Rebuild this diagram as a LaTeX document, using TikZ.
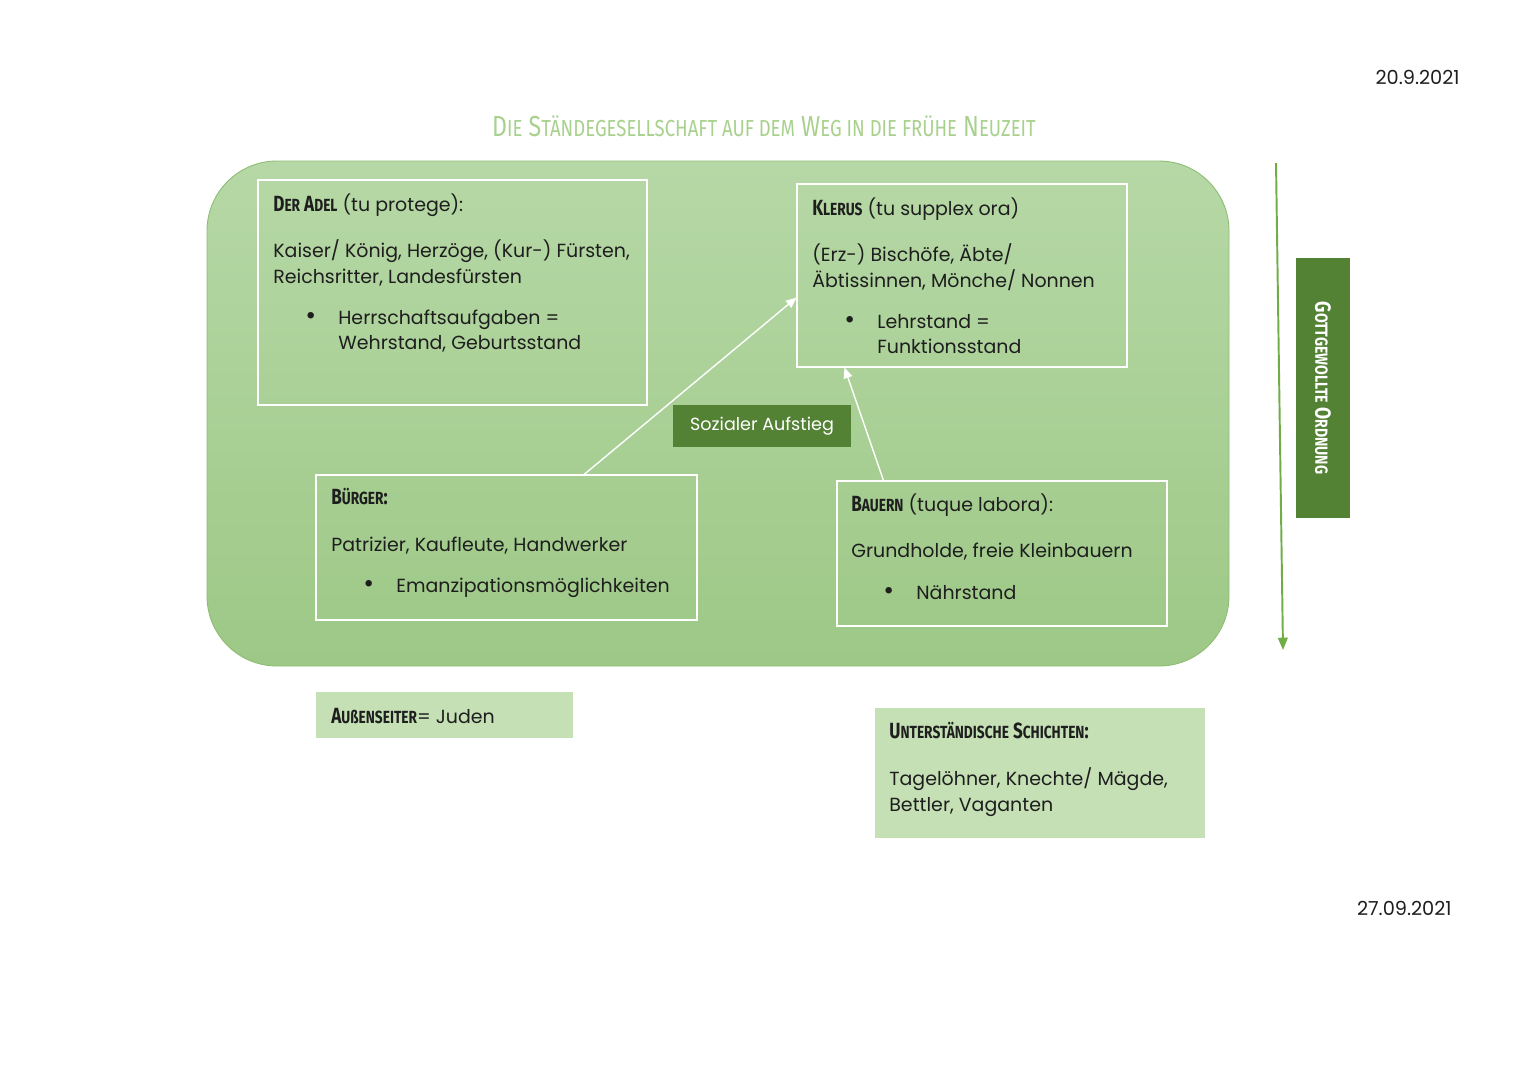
\documentclass[tikz,border=0pt]{standalone}
\usepackage{fontspec}
\usepackage{graphicx}
\setmainfont{Poppins}
\newfontfamily\headfont{Fira Sans}
\usetikzlibrary{arrows.meta,calc,fit}
\definecolor{titlegreen}{HTML}{A9D18E}
\definecolor{darkgreen}{HTML}{548235}
\definecolor{midgreen}{HTML}{70AD47}
\definecolor{palegreen}{HTML}{C5E0B4}
\definecolor{bgtop}{HTML}{B6D8A6}
\definecolor{bgbot}{HTML}{9DC886}
\definecolor{bgborder}{HTML}{8DBD72}
\definecolor{ink}{HTML}{1E1E1E}
\newcommand\Bg[2]{{\fontsize{#1}{#1}\selectfont #2}}
\newcommand\hd[1]{\scalebox{0.78}[1]{\headfont\bfseries\fontsize{12.5}{14}\selectfont #1}}
\newcommand\bul{{\fontsize{15}{15}\selectfont\textbullet}}
\begin{document}
\begin{tikzpicture}[x=0.02cm,y=-0.02cm,
  every node/.style={text=ink},
  txt/.style={anchor=mid west, inner sep=0, font=\fontsize{10.8}{13}\selectfont},
  wbox/.style={draw=white, line width=0.6pt, inner sep=0},
  pbox/.style={fill=palegreen, inner sep=0},
  upar/.style={draw=white, line width=0.8pt, -{Triangle[length=6pt,width=5pt]}},
  vdown/.style={draw=midgreen, line width=1.1pt, -{Triangle[length=7pt,width=5.5pt]}}]
\useasboundingbox (0,0) rectangle (1527,1080);
\fill[white] (0,0) rectangle (1527,1080);

% dates and title
\node[anchor=mid east, inner sep=0, font=\fontsize{11}{13}\selectfont] (date1) at (1460,80) {20.9.2021};
\node[anchor=mid east, inner sep=0, font=\fontsize{11}{13}\selectfont] (date2) at (1452,911) {27.09.2021};
\node[inner sep=0, text=titlegreen] (title) at (764,126)
  {\scalebox{0.8}[1]{\headfont\fontsize{16.5}{18}\selectfont D\Bg{13.2}{IE} S\Bg{13.2}{TÄNDEGESELLSCHAFT AUF DEM} W\Bg{13.2}{EG IN DIE FRÜHE} N\Bg{13.2}{EUZEIT}}};

% big rounded area
\node[fit={(207,161)(1229,666)}, inner sep=0, rounded corners=1.4cm, draw=bgborder, line width=0.5pt, top color=bgtop, bottom color=bgbot] (stand) {};

% boxes
\node[wbox, fit={(258,180)(647,405)}] (adel) {};
\node[wbox, fit={(797,184)(1127,367)}] (klerus) {};
\node[wbox, fit={(316,475)(697,620)}] (buerger) {};
\node[wbox, fit={(837,481)(1167,626)}] (bauern) {};
\node[fit={(673,405)(851,447)}, inner sep=0, fill=darkgreen] (aufstiegbox) {};
\node[inner sep=0, text=white, font=\fontsize{10}{12}\selectfont] (aufstieg) at (aufstiegbox.center) {Sozialer Aufstieg};

% Adel
\node[txt] (adel1) at (273,207) {\hd{D\Bg{10}{ER} A\Bg{10}{DEL}} (tu protege):};
\node[txt] (adel2) at (273,253) {Kaiser/ König, Herzöge, (Kur-) Fürsten,};
\node[txt] (adel3) at (273,279) {Reichsritter, Landesfürsten};
\node[txt] (adel4) at (305,320) {\bul};
\node[txt] (adel5) at (338,320) {Herrschaftsaufgaben =};
\node[txt] (adel6) at (338,345) {Wehrstand, Geburtsstand};

% Klerus
\node[txt] (kl1) at (812,211) {\hd{K\Bg{10}{LERUS}} (tu supplex ora)};
\node[txt] (kl2) at (812,257) {(Erz-) Bischöfe, Äbte/};
\node[txt] (kl3) at (812,283) {Äbtissinnen, Mönche/ Nonnen};
\node[txt] (kl4) at (844,324) {\bul};
\node[txt] (kl5) at (877,324) {Lehrstand =};
\node[txt] (kl6) at (877,349) {Funktionsstand};

% Buerger
\node[txt] (bu1) at (331,500) {\hd{B\Bg{10}{ÜRGER}:}};
\node[txt] (bu2) at (331,547) {Patrizier, Kaufleute, Handwerker};
\node[txt] (bu3) at (363,588) {\bul};
\node[txt] (bu4) at (396,588) {Emanzipationsmöglichkeiten};

% Bauern
\node[txt] (ba1) at (851,507) {\hd{B\Bg{10}{AUERN}} (tuque labora):};
\node[txt] (ba2) at (851,553) {Grundholde, freie Kleinbauern};
\node[txt] (ba3) at (883,595) {\bul};
\node[txt] (ba4) at (916,595) {Nährstand};

% arrows Sozialer Aufstieg
\draw[upar] ($(buerger.north west)!0.703!(buerger.north east)$) -- ($(klerus.north west)!0.62!(klerus.south west)$);
\draw[upar] ($(bauern.north west)!0.142!(bauern.north east)$) -- ($(klerus.south west)!0.145!(klerus.south east)$);

% vertical arrow and label
\coordinate (vtop) at (1276,163);
\coordinate (vbot) at (1283,650);
\draw[vdown] (vtop) -- (vbot);
\node[fit={(1296,258)(1350,518)}, inner sep=0, fill=darkgreen] (gobox) {};
\node[inner sep=0, text=white, rotate=-90] (gott) at (gobox.center)
  {\scalebox{0.8}[1]{\headfont\bfseries\fontsize{12.5}{14}\selectfont G\Bg{10}{OTTGEWOLLTE} O\Bg{10}{RDNUNG}}};

% outsiders
\node[pbox, fit={(316,692)(573,738)}] (aussenbox) {};
\node[txt] (aussen) at (331,719) {\hd{A\Bg{10}{UßENSEITER}}= Juden};
\node[pbox, fit={(875,708)(1205,838)}] (unterbox) {};
\node[txt] (un1) at (889,734) {\hd{U\Bg{10}{NTERSTÄNDISCHE} S\Bg{10}{CHICHTEN}:}};
\node[txt] (un2) at (889,781) {Tagelöhner, Knechte/ Mägde,};
\node[txt] (un3) at (889,807) {Bettler, Vaganten};
\end{tikzpicture}
\end{document}
